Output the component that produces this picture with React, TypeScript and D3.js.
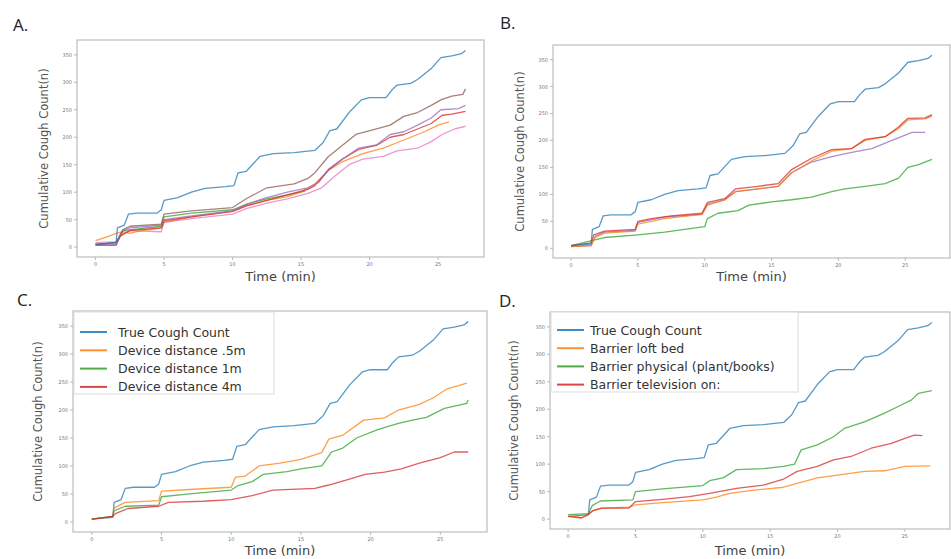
import React from "react";
import * as d3 from "d3";

type Pt = [number, number];

// ---- Data (time in minutes, cumulative cough count) ----
const trueCough: Pt[] = [[0,5],[1.5,8],[1.6,35],[2.1,40],[2.4,60],[3,62],[4.5,62],[4.8,68],[5,85],[6,90],[7,100],[8,107],[9.5,110],[10.1,112],[10.4,135],[11,138],[12,165],[13,170],[14.5,172],[16,176],[16.6,190],[17.1,212],[17.6,215],[18.5,245],[19.4,268],[20,272],[21.2,272],[21.6,285],[22,295],[23,298],[23.5,305],[24.5,325],[25.2,345],[26,348],[26.7,352],[27,358]];

const aOrange: Pt[] = [[0,12],[1,20],[1.5,25],[2,28],[2.5,25],[3,28],[4.8,35],[5,45],[7,55],[10,65],[11,75],[12.5,85],[14,92],[15,100],[16,115],[17,140],[18,155],[19.5,170],[21,180],[22,190],[23,200],[24,210],[25,222],[25.8,228]];
const aGreen: Pt[] = [[0,5],[1.5,8],[2,30],[4.8,38],[5,55],[7,62],[10,68],[11,78],[12.5,88],[14,95],[15.3,102]];
const aRed: Pt[] = [[0,3],[1.5,3],[1.8,20],[2.5,30],[4.8,35],[5,48],[7,55],[10,65],[11,75],[12.5,85],[14,95],[15.5,105],[16,112],[17,140],[18,160],[19.2,178],[20.5,185],[21.5,200],[22.5,205],[23.5,215],[24.5,225],[25.3,240],[26,242],[27,247]];
const aPurple: Pt[] = [[0,5],[1.5,5],[2,30],[2.5,35],[4.8,40],[5,50],[7,57],[10,66],[11,78],[12.5,90],[14,100],[15.5,108],[16.3,118],[17,142],[18,160],[19.2,180],[20.5,186],[21.5,205],[22.5,210],[23.5,222],[24.5,235],[25.2,250],[26.5,252],[27,258]];
const aBrown: Pt[] = [[0,5],[1.5,8],[2,32],[2.5,38],[4.8,42],[5,60],[7,66],[10,72],[11,88],[12.5,108],[14.5,115],[15.5,125],[16,135],[17,165],[18,185],[19,205],[20.5,215],[21.5,222],[22.5,238],[23.5,245],[24.5,258],[25.2,268],[26,275],[26.8,278],[27,288]];
const aPink: Pt[] = [[0,8],[1.5,10],[2,25],[2.5,30],[4.8,28],[5,45],[7,52],[10,60],[11,70],[12.5,80],[14,88],[15.5,98],[16.5,108],[17.5,130],[18.5,150],[19.5,160],[21,165],[22,175],[23.5,180],[24.5,192],[25.3,205],[26.2,215],[27,220]];

const bOrange: Pt[] = [[0,3],[1.5,5],[1.8,20],[2.5,28],[4.8,32],[5,45],[7,55],[9.8,63],[10.2,80],[11.5,90],[12.3,105],[14,110],[15.5,115],[16.5,140],[18,162],[19.5,180],[21,185],[22,200],[23.5,207],[24.5,222],[25.2,238],[26.5,240],[27,245]];
const bRed: Pt[] = [[0,5],[1.5,10],[1.7,25],[2.5,32],[4.8,35],[5,50],[6,55],[7.5,60],[9.8,65],[10.2,85],[11.5,92],[12.3,110],[14,115],[15.5,120],[16.5,146],[18,167],[19.5,183],[21,185],[22,202],[23.5,207],[24.5,225],[25.2,241],[26.5,242],[27,248]];
const bPurple: Pt[] = [[0,3],[1.5,5],[1.8,22],[2.5,30],[4.8,33],[5,48],[7,58],[9.8,63],[10.2,82],[11.5,90],[12.3,105],[14,110],[15.5,115],[16.5,140],[18,160],[19.5,170],[21,178],[22.5,185],[24,200],[25,210],[25.5,215],[26.5,215]];
const bGreen: Pt[] = [[0,5],[1.7,15],[2.5,20],[5,25],[7,30],[8.5,35],[10,40],[10.2,55],[11,65],[12.5,70],[13.3,80],[15,86],[16.5,90],[18,95],[19.5,105],[20.5,110],[22,115],[23.5,120],[24.5,130],[25.2,150],[26,155],[27,165]];

const cOrange: Pt[] = [[0,5],[1.5,10],[1.6,25],[2.4,35],[4.8,38],[5,55],[7,58],[10,62],[10.3,80],[11,82],[12,100],[13.5,105],[15,112],[16.5,124],[17,148],[18,155],[19.5,182],[21,186],[22,200],[23.5,210],[24.5,222],[25.5,238],[26.9,248]];
const cGreen: Pt[] = [[0,5],[1.5,10],[1.6,20],[2.4,28],[4.8,30],[5,45],[7,50],[10,57],[10.5,65],[11.5,72],[12.3,85],[14,90],[15,95],[16.5,100],[17.2,125],[18,132],[19,150],[20.5,165],[22,176],[23,182],[24,187],[25.3,203],[26.9,212],[27,218]];
const cRed: Pt[] = [[0,5],[1.5,10],[1.7,15],[2.6,24],[4.8,28],[5.5,35],[8,37],[10,40],[11.5,47],[13,57],[16,60],[17,66],[18.3,75],[19.6,85],[21,89],[22.2,95],[23.5,105],[25,115],[26,125],[27,125]];

const dOrange: Pt[] = [[0,5],[1,3],[1.5,10],[2,17],[2.5,20],[4.5,22],[5,26],[7,30],[10,35],[11,40],[12,47],[13.5,52],[16,58],[17,65],[18.5,75],[20,80],[22,87],[23.5,88],[25,96],[26.9,97]];
const dGreen: Pt[] = [[0,8],[1.5,10],[1.8,25],[2.4,33],[4.8,35],[5,50],[7,55],[10,61],[10.5,70],[11.5,75],[12.5,90],[14.5,92],[16,96],[16.8,100],[17.3,126],[18.5,135],[19.7,150],[20.5,165],[22,177],[23.5,193],[24.5,205],[25.5,217],[26,229],[27,234]];
const dRed: Pt[] = [[0,5],[1,2],[1.5,8],[1.8,15],[2.5,20],[4.5,20],[5,32],[7,36],[9,41],[10.5,47],[12.5,56],[14.5,62],[16,73],[17,87],[18.5,96],[19.7,108],[21,114],[22.5,129],[24,138],[25,147],[25.7,153],[26.3,152]];

const xTicks = [0, 5, 10, 15, 20, 25];
const yTicks = [0, 50, 100, 150, 200, 250, 300, 350];
const legendC = ["True Cough Count", "Device distance .5m", "Device distance 1m", "Device distance 4m"];
const legendD = ["True Cough Count", "Barrier loft bed", "Barrier physical (plant/books)", "Barrier television on:"];

const C = {
  blue: "#1f77b4", orange: "#ff7f0e", green: "#2ca02c", red: "#d62728",
  purple: "#9467bd", brown: "#8c564b", pink: "#e377c2",
};

type Series = { data: Pt[]; color: string };
type PanelDef = {
  letter: string; lx: number; ly: number;
  box: { l: number; t: number; r: number; b: number };
  series: Series[];
  ylabX: number;
  xlabY: number;
  legend?: { labels: string[]; colors: string[]; x: number; y: number; w: number; h: number; textX: number; row0: number; dy: number };
};

const panels: PanelDef[] = [
  {
    letter: "A.", lx: 13, ly: 31, box: { l: 77, t: 40, r: 484, b: 257 }, ylabX: 48, xlabY: 281,
    series: [
      { data: aGreen, color: C.green }, { data: aPink, color: C.pink }, { data: aOrange, color: C.orange },
      { data: aRed, color: C.red }, { data: aPurple, color: C.purple }, { data: aBrown, color: C.brown },
      { data: trueCough, color: C.blue },
    ],
  },
  {
    letter: "B.", lx: 500, ly: 29, box: { l: 553, t: 45, r: 950, b: 258 }, ylabX: 524, xlabY: 281,
    series: [
      { data: bGreen, color: C.green }, { data: bPurple, color: C.purple }, { data: bOrange, color: C.orange },
      { data: bRed, color: C.red }, { data: trueCough, color: C.blue },
    ],
  },
  {
    letter: "C.", lx: 17, ly: 306, box: { l: 73, t: 311, r: 487, b: 532 }, ylabX: 42, xlabY: 555,
    series: [
      { data: trueCough, color: C.blue }, { data: cOrange, color: C.orange },
      { data: cGreen, color: C.green }, { data: cRed, color: C.red },
    ],
    legend: { labels: legendC, colors: [C.blue, C.orange, C.green, C.red], x: 74, y: 312, w: 200, h: 82, textX: 118, row0: 332, dy: 18.3 },
  },
  {
    letter: "D.", lx: 499, ly: 307, box: { l: 550, t: 312, r: 950, b: 529 }, ylabX: 518, xlabY: 555,
    series: [
      { data: trueCough, color: C.blue }, { data: dOrange, color: C.orange },
      { data: dGreen, color: C.green }, { data: dRed, color: C.red },
    ],
    legend: { labels: legendD, colors: [C.blue, C.orange, C.green, C.red], x: 551, y: 312, w: 247, h: 80, textX: 590, row0: 330, dy: 18.2 },
  },
];

function Panel({ p }: { p: PanelDef }) {
  const { l, t, r, b } = p.box;
  const x = d3.scaleLinear().domain([-1.35, 28.35]).range([l, r]);
  const y = d3.scaleLinear().domain([-18, 377]).range([b, t]);
  const line = d3.line<Pt>().x((d) => x(d[0])).y((d) => y(d[1]));
  const font = "DejaVu Sans, sans-serif";
  return (
    <g>
      <text x={p.lx} y={p.ly} fontFamily="Open Sans, sans-serif" fontSize={17} fill="#222">{p.letter}</text>
      <rect x={l} y={t} width={r - l} height={b - t} fill="white" stroke="#bdbdbd" strokeWidth={1.2} />
      {xTicks.map((v) => (
        <g key={"x" + v}>
          <line x1={x(v)} x2={x(v)} y1={b} y2={b + 3} stroke="#aaa" strokeWidth={0.8} />
          <text x={x(v)} y={b + 8.5} fontFamily={font} fontSize={5} fill="#777" textAnchor="middle">{v}</text>
        </g>
      ))}
      {yTicks.map((v) => (
        <g key={"y" + v}>
          <line x1={l - 3} x2={l} y1={y(v)} y2={y(v)} stroke="#aaa" strokeWidth={0.8} />
          <text x={l - 5} y={y(v) + 2} fontFamily={font} fontSize={5} fill="#777" textAnchor="end">{v}</text>
        </g>
      ))}
      {p.series.map((s, i) => (
        <path key={i} d={line(s.data) || ""} fill="none" stroke={s.color} strokeWidth={1.3} strokeOpacity={0.75} strokeLinejoin="round" />
      ))}
      <text x={(l + r) / 2} y={p.xlabY} fontFamily={font} fontSize={13} fill="#444" textAnchor="middle">Time (min)</text>
      <text transform={`translate(${p.ylabX},${(t + b) / 2}) rotate(-90)`} fontFamily={font} fontSize={11.5} fill="#555" textAnchor="middle">Cumulative Cough Count(n)</text>
      {p.legend && (
        <g>
          <rect x={p.legend.x} y={p.legend.y} width={p.legend.w} height={p.legend.h} fill="white" fillOpacity={0.9} stroke="#dcdcdc" strokeWidth={1} />
          {p.legend.labels.map((lab, i) => {
            const yy = p.legend!.row0 + i * p.legend!.dy;
            return (
              <g key={lab}>
                <line x1={p.legend!.x + 6} x2={p.legend!.x + 33} y1={yy} y2={yy} stroke={p.legend!.colors[i]} strokeWidth={2} strokeOpacity={0.85} />
                <text x={p.legend!.textX} y={yy + 4.5} fontFamily={font} fontSize={12.5} fill="#333">{lab}</text>
              </g>
            );
          })}
        </g>
      )}
    </g>
  );
}

export default function App() {
  return (
    <svg width={951} height={559} style={{ position: "absolute", left: 0, top: 0, background: "white" }}>
      <rect x={0} y={0} width={951} height={559} fill="white" />
      {panels.map((p) => <Panel key={p.letter} p={p} />)}
    </svg>
  );
}
